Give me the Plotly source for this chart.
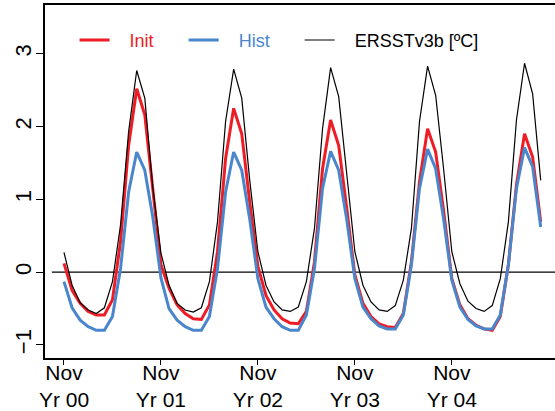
import plotly.graph_objects as go

# months since Nov Yr 00 (monthly lead)
months = list(range(60))

init = [0.12, -0.25, -0.43, -0.54, -0.59, -0.59, -0.38, 0.42, 1.74, 2.52, 2.16, 1.12,
        0.10, -0.22, -0.45, -0.57, -0.64, -0.65, -0.45, 0.28, 1.56, 2.25, 1.90, 0.95,
        0.08, -0.32, -0.52, -0.64, -0.70, -0.71, -0.54, 0.14, 1.42, 2.09, 1.74, 0.87,
        -0.04, -0.43, -0.61, -0.71, -0.75, -0.76, -0.57, 0.14, 1.24, 1.97, 1.65, 0.83,
        -0.09, -0.45, -0.64, -0.73, -0.78, -0.80, -0.61, 0.10, 1.20, 1.90, 1.58, 0.69]

hist = [-0.13, -0.49, -0.66, -0.75, -0.80, -0.80, -0.61, 0.05, 1.10, 1.65, 1.40, 0.75,
        -0.08, -0.50, -0.66, -0.75, -0.80, -0.80, -0.61, 0.05, 1.10, 1.65, 1.40, 0.72,
        -0.09, -0.48, -0.64, -0.75, -0.80, -0.80, -0.59, 0.05, 1.15, 1.66, 1.40, 0.72,
        -0.09, -0.48, -0.64, -0.74, -0.78, -0.78, -0.59, 0.10, 1.15, 1.69, 1.42, 0.72,
        -0.11, -0.48, -0.65, -0.74, -0.78, -0.78, -0.59, 0.10, 1.15, 1.71, 1.45, 0.62]

ersst = [0.27, -0.18, -0.42, -0.52, -0.57, -0.49, -0.13, 0.65, 1.93, 2.77, 2.39, 1.15,
         0.26, -0.18, -0.43, -0.52, -0.55, -0.49, -0.13, 0.69, 2.07, 2.79, 2.39, 1.25,
         0.28, -0.18, -0.41, -0.52, -0.54, -0.48, -0.13, 0.60, 1.97, 2.81, 2.41, 1.35,
         0.28, -0.18, -0.41, -0.52, -0.54, -0.46, -0.11, 0.60, 2.07, 2.83, 2.43, 1.40,
         0.28, -0.16, -0.40, -0.50, -0.54, -0.46, -0.09, 0.69, 2.09, 2.87, 2.45, 1.26]

tick_pos = [0, 12, 24, 36, 48]
tick_text = ["Nov<br>Yr 00", "Nov<br>Yr 01", "Nov<br>Yr 02", "Nov<br>Yr 03", "Nov<br>Yr 04"]

FONT = "Liberation Sans, Arial, sans-serif"
NB = "\u00a0"

fig = go.Figure()
fig.add_trace(go.Scatter(x=months, y=init, mode="lines",
                         name=NB * 3 + "<span style='color:#EE1C25'>Init</span>" + NB * 5,
                         line=dict(color="#EE1C25", width=3)))
fig.add_trace(go.Scatter(x=months, y=hist, mode="lines",
                         name=NB * 3 + "<span style='color:#4A86CC'>Hist</span>" + NB * 5,
                         line=dict(color="#4A86CC", width=3)))
fig.add_trace(go.Scatter(x=months, y=ersst, mode="lines",
                         name=NB * 3 + "ERSSTv3b [ºC]",
                         line=dict(color="black", width=1.2)))

# zero reference line
fig.add_shape(type="line", xref="x", yref="y", x0=-1.5, x1=62, y0=0, y1=0,
              line=dict(color="black", width=1.2), layer="below")

fig.update_layout(
    width=555, height=411,
    margin=dict(l=45, r=0, t=5, b=53),
    paper_bgcolor="white", plot_bgcolor="white",
    font=dict(family=FONT, size=18, color="black"),
    showlegend=True,
    legend=dict(orientation="h", x=0.058, y=0.90, xanchor="left", yanchor="middle",
                bgcolor="rgba(0,0,0,0)", font=dict(size=18)),
    xaxis=dict(range=[-2.35, 60.77], tickvals=tick_pos, ticktext=tick_text,
               showline=True, linecolor="black", linewidth=1.5, mirror=True,
               ticks="outside", ticklen=5, tickwidth=1.2, tickcolor="black",
               showgrid=False, zeroline=False, tickfont=dict(size=21),
               ticklabelstandoff=-10, automargin=False),
    yaxis=dict(range=[-1.18, 3.67], tickvals=[-1, 0, 1, 2, 3],
               showline=True, linecolor="black", linewidth=1.5, mirror=False,
               ticks="outside", ticklen=7, tickwidth=1.2, tickcolor="black",
               tickangle=-90, showgrid=False, zeroline=False, tickfont=dict(size=22),
               ticklabelstandoff=-4, automargin=False),
)

# drop the page's default body margin so the figure sits at the top-left corner
fig.write_html("out.html", config={"displayModeBar": False},
               post_script="document.body.style.margin='0';document.body.style.overflow='hidden';")
